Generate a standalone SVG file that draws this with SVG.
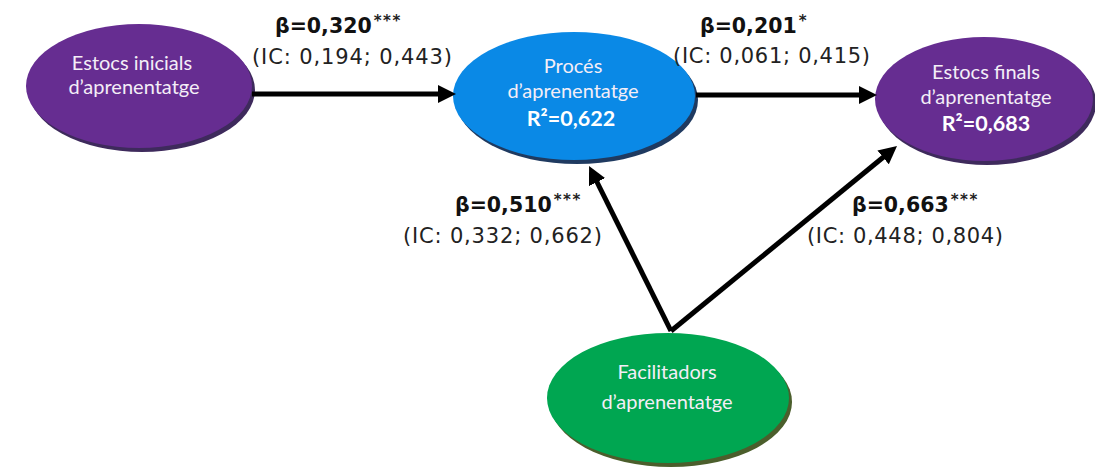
<svg xmlns="http://www.w3.org/2000/svg" width="1095" height="470" viewBox="0 0 1095 470">
  <defs>
    <marker id="arrow" viewBox="0 0 18 18" markerWidth="18" markerHeight="18" refX="8" refY="9" markerUnits="userSpaceOnUse" orient="auto">
      <path d="M0,0 L18,9 L0,18 z" fill="#000"/>
    </marker>
  </defs>
  <style>
    .node-text { font-family: Lato, "Liberation Sans", sans-serif; font-size: 20px; fill: #f4eef7; text-anchor: middle; }
    .r2 { font-weight: bold; font-size: 21.5px; fill: #ffffff; }
    .beta { font-family: "DejaVu Sans", Verdana, sans-serif; font-size: 20.5px; font-weight: bold; fill: #111; }
    .stars { font-size: 15px; font-weight: bold; fill: #222; letter-spacing: 1.5px; }
    .ci { font-family: "DejaVu Sans", Verdana, sans-serif; font-size: 21px; fill: #222; }
    .conn { stroke: #000; stroke-width: 5; fill: none; marker-end: url(#arrow); }
  </style>

  <rect width="1095" height="470" fill="#ffffff"/>

  <!-- Estocs inicials -->
  <g id="node-estocs-inicials">
    <ellipse cx="142" cy="90" rx="113" ry="62" fill="#3e2a5c"/>
    <ellipse cx="139" cy="86" rx="113" ry="62" fill="#662d91"/>
    <text class="node-text" x="132" y="70" font-size="19">Estocs inicials</text>
    <text class="node-text" x="134" y="94" font-size="19">d’aprenentatge</text>
  </g>

  <!-- Procés d'aprenentatge -->
  <g id="node-proces">
    <ellipse cx="577" cy="100" rx="121" ry="64" fill="#1f3a60"/>
    <ellipse cx="574" cy="96" rx="121" ry="64" fill="#0a89e6"/>
    <text class="node-text" x="573" y="73">Procés</text>
    <text class="node-text" x="573" y="98">d’aprenentatge</text>
    <text class="node-text r2" x="571" y="126">R²=0,622</text>
  </g>

  <!-- Estocs finals -->
  <g id="node-estocs-finals">
    <ellipse cx="987" cy="103" rx="109" ry="62" fill="#3e2a5c"/>
    <ellipse cx="984" cy="99" rx="109" ry="62" fill="#662d91"/>
    <text class="node-text" x="986" y="79">Estocs finals</text>
    <text class="node-text" x="986" y="104">d’aprenentatge</text>
    <text class="node-text r2" x="986" y="131">R²=0,683</text>
  </g>

  <!-- Facilitadors d'aprenentatge -->
  <g id="node-facilitadors">
    <ellipse cx="671" cy="402" rx="121" ry="65" fill="#4b5e2c"/>
    <ellipse cx="668" cy="398" rx="121" ry="65" fill="#00a651"/>
    <text class="node-text" x="667" y="379">Facilitadors</text>
    <text class="node-text" x="667" y="409">d’aprenentatge</text>
  </g>

  <!-- Paths between constructs -->
  <g id="connectors">
    <line class="conn" x1="252" y1="94" x2="446" y2="94"/>
    <line class="conn" x1="696" y1="95" x2="867" y2="95"/>
    <line class="conn" x1="671" y1="331" x2="593.5" y2="175"/>
    <line class="conn" x1="671" y1="331" x2="889.3" y2="152.3"/>
  </g>

  <!-- Path coefficients and confidence intervals -->
  <g id="labels">
    <text class="beta" x="275" y="33">β=0,320<tspan class="stars" dx="2" dy="-7">***</tspan></text>
    <text class="ci" x="252" y="64" textLength="200" lengthAdjust="spacing">(IC: 0,194; 0,443)</text>

    <text class="beta" x="700" y="33">β=0,201<tspan class="stars" dx="2" dy="-7">*</tspan></text>
    <text class="ci" x="673" y="63" textLength="197" lengthAdjust="spacing">(IC: 0,061; 0,415)</text>

    <text class="beta" x="455" y="212">β=0,510<tspan class="stars" dx="2" dy="-7">***</tspan></text>
    <text class="ci" x="403" y="243" textLength="199" lengthAdjust="spacing">(IC: 0,332; 0,662)</text>

    <text class="beta" x="852" y="212">β=0,663<tspan class="stars" dx="2" dy="-7">***</tspan></text>
    <text class="ci" x="807" y="243" textLength="196" lengthAdjust="spacing">(IC: 0,448; 0,804)</text>
  </g>
</svg>
